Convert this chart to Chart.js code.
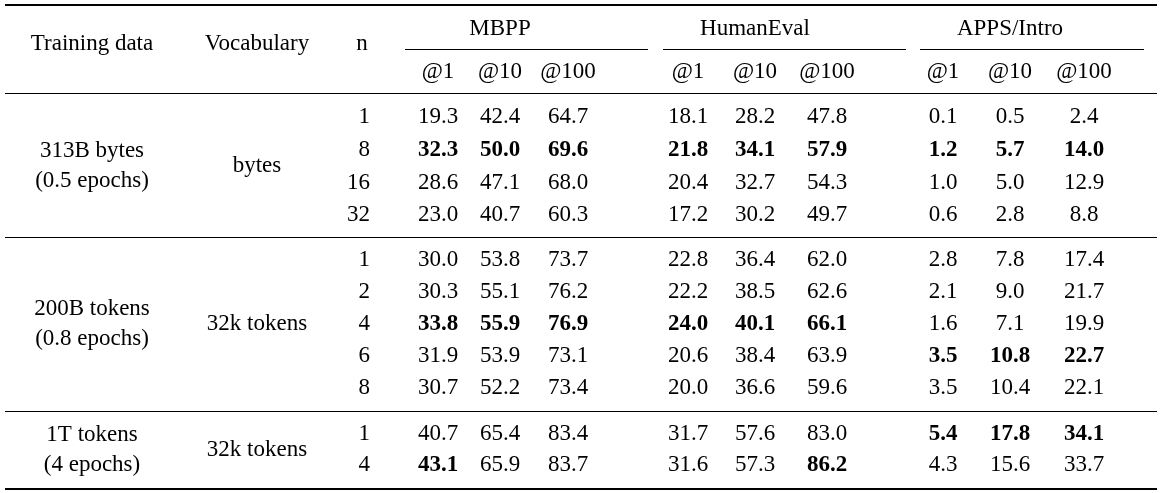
<!DOCTYPE html>
<html>
<head>
<meta charset="utf-8">
<script src="https://cdn.jsdelivr.net/npm/chart.js@4"></script>
<style>
  body { margin: 0; background: #fff; }
  canvas { display: block; }
</style>
</head>
<body>
<canvas id="table" width="1162" height="493"></canvas>
<script>
// table content
const groups = ['MBPP', 'HumanEval', 'APPS/Intro']
const metrics = ['@1', '@10', '@100']
const trainingData = [['313B bytes', '(0.5 epochs)'], ['200B tokens', '(0.8 epochs)'], ['1T tokens', '(4 epochs)']]
const vocab = ['bytes', '32k tokens', '32k tokens']
const nValues = [[1, 8, 16, 32], [1, 2, 4, 6, 8], [1, 4]]
const scores = [
	[19.3, 42.4, 64.7, 18.1, 28.2, 47.8, 0.1, 0.5, 2.4],
	[32.3, 50.0, 69.6, 21.8, 34.1, 57.9, 1.2, 5.7, 14.0],
	[28.6, 47.1, 68.0, 20.4, 32.7, 54.3, 1.0, 5.0, 12.9],
	[23.0, 40.7, 60.3, 17.2, 30.2, 49.7, 0.6, 2.8, 8.8],
	[30.0, 53.8, 73.7, 22.8, 36.4, 62.0, 2.8, 7.8, 17.4],
	[30.3, 55.1, 76.2, 22.2, 38.5, 62.6, 2.1, 9.0, 21.7],
	[33.8, 55.9, 76.9, 24.0, 40.1, 66.1, 1.6, 7.1, 19.9],
	[31.9, 53.9, 73.1, 20.6, 38.4, 63.9, 3.5, 10.8, 22.7],
	[30.7, 52.2, 73.4, 20.0, 36.6, 59.6, 3.5, 10.4, 22.1],
	[40.7, 65.4, 83.4, 31.7, 57.6, 83.0, 5.4, 17.8, 34.1],
	[43.1, 65.9, 83.7, 31.6, 57.3, 86.2, 4.3, 15.6, 33.7]
]
// [row, col] of bold cells
const boldCells = [[1,0],[1,1],[1,2],[1,3],[1,4],[1,5],[1,6],[1,7],[1,8],
	[6,0],[6,1],[6,2],[6,3],[6,4],[6,5],[7,6],[7,7],[7,8],
	[9,6],[9,7],[9,8],[10,0],[10,5]]

// layout (pixel grid, same as the canvas)
const colX = [438, 500, 568, 688, 755, 827, 943, 1010, 1084]
const groupX = [500, 755, 1010]
const groupSpan = [[405, 648], [663, 906], [920, 1144]]
const rowY = [117, 150, 183, 215, 260, 292, 324, 356, 388, 434, 465]
const blockY = [166, 324, 450]
const FONT = '"Liberation Serif", "DejaVu Serif", serif'

const isBold = (r, c) => boldCells.some(b => b[0] === r && b[1] === c)

const cells = []
scores.forEach((row, r) => row.forEach((v, c) => {
	cells.push({ x: colX[c], y: rowY[r], t: v.toFixed(1), b: isBold(r, c), a: 'center' })
}))
let r = 0
nValues.forEach((list, g) => {
	trainingData[g].forEach((s, i) => cells.push({ x: 92, y: blockY[g] + (i - 0.5) * 30, t: s, b: false, a: 'center' }))
	cells.push({ x: 257, y: blockY[g], t: vocab[g], b: false, a: 'center' })
	list.forEach(n => { cells.push({ x: 370, y: rowY[r], t: String(n), b: false, a: 'right' }); r++ })
})
cells.push({ x: 92, y: 44, t: 'Training data', b: false, a: 'center' })
cells.push({ x: 257, y: 44, t: 'Vocabulary', b: false, a: 'center' })
cells.push({ x: 362, y: 44, t: 'n', b: false, a: 'center' })
groups.forEach((g, i) => cells.push({ x: groupX[i], y: 29, t: g, b: false, a: 'center' }))
colX.forEach((x, i) => cells.push({ x: x, y: 72, t: metrics[i % 3], b: false, a: 'center' }))

const tablePlugin = {
	id: 'tablePlugin',
	afterDatasetsDraw(chart) {
		const c = chart.ctx
		const xs = chart.scales.x, ys = chart.scales.y
		const hline = (x0, x1, y, w) => {
			const py = Math.round(ys.getPixelForValue(y)) + (w % 2 ? 0.5 : 0)
			c.beginPath()
			c.lineWidth = w
			c.strokeStyle = '#000'
			c.moveTo(xs.getPixelForValue(x0), py)
			c.lineTo(xs.getPixelForValue(x1), py)
			c.stroke()
		}
		hline(5, 1157, 5, 2)
		groupSpan.forEach(s => hline(s[0], s[1], 49, 1))
		hline(5, 1157, 93, 1)
		hline(5, 1157, 237, 1)
		hline(5, 1157, 411, 1)
		hline(5, 1157, 489, 2)

		c.save()
		c.fillStyle = '#000'
		c.textBaseline = 'middle'
		chart.getDatasetMeta(0).data.forEach((pt, i) => {
			const d = cells[i]
			c.font = (d.b ? 'bold ' : '') + '23px ' + FONT
			c.textAlign = d.a
			c.fillText(d.t, pt.x, pt.y)
		})
		c.restore()
	}
}

new Chart(document.getElementById('table').getContext('2d'), {
	type: 'scatter',
	data: { datasets: [{ data: cells, pointRadius: 0 }] },
	options: {
		responsive: false,
		animation: false,
		layout: { padding: 0 },
		plugins: { legend: { display: false }, tooltip: { enabled: false } },
		scales: {
			x: { type: 'linear', min: 0, max: 1162, display: false },
			y: { type: 'linear', min: 0, max: 493, reverse: true, display: false }
		}
	},
	plugins: [tablePlugin]
})
</script>
</body>
</html>
